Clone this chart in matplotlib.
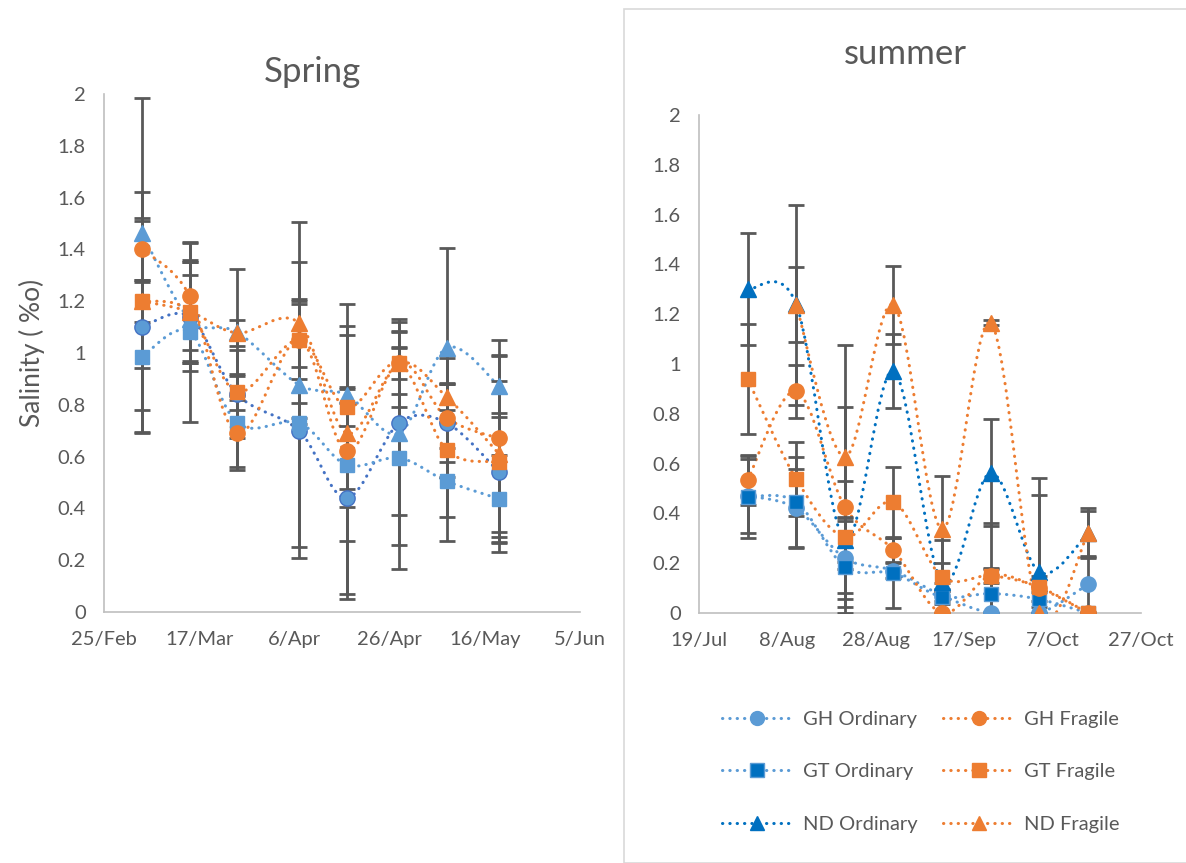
import datetime as dt
import numpy as np
import matplotlib
matplotlib.use("Agg")
import matplotlib.pyplot as plt
import matplotlib.dates as mdates
from matplotlib.path import Path
from matplotlib.patches import PathPatch, Rectangle
from matplotlib.lines import Line2D

plt.rcParams["font.family"] = ["Lato", "DejaVu Sans"]

labels = ["GH Ordinary", "GT Ordinary", "ND Ordinary", "GH Fragile", "GT Fragile", "ND Fragile"]

# spring sampling dates and values (salinity, %o)
spring_dates = ["2021-03-05", "2021-03-15", "2021-03-25", "2021-04-07",
                "2021-04-17", "2021-04-28", "2021-05-08", "2021-05-19"]
spring_gh_ord = [1.10, 1.14, 0.84, 0.70, 0.44, 0.73, 0.73, 0.54]
spring_gt_ord = [0.985, 1.08, 0.73, 0.73, 0.568, 0.595, 0.505, 0.437]
spring_nd_ord = [1.463, 1.13, 1.08, 0.877, 0.838, 0.69, 1.02, 0.872]
spring_gh_fra = [1.40, 1.22, 0.69, 1.05, 0.62, 0.96, 0.75, 0.67]
spring_gt_fra = [1.20, 1.16, 0.85, 1.05, 0.79, 0.96, 0.625, 0.58]
spring_nd_fra = [1.20, 1.16, 1.077, 1.115, 0.69, 0.96, 0.83, 0.61]

spring_gh_ord_err = [0.41, 0.21, 0.17, 0.49, 0.035, 0.355, 0.15, 0.23]
spring_gt_ord_err = [0.29, 0.345, 0.18, 0.48, 0.50, 0.43, 0.23, 0.17]
spring_nd_ord_err = [0.52, 0.17, 0.245, 0.07, 0.03, 0.43, 0.385, 0.12]
spring_gh_fra_err = [0.12, 0.21, 0.13, 0.15, 0.57, 0.17, 0.23, 0.38]
spring_gt_fra_err = [0.42, 0.19, 0.07, 0.30, 0.07, 0.06, 0.26, 0.31]
spring_nd_fra_err = [0.08, 0.20, 0.05, 0.39, 0.415, 0.12, 0.05, 0.38]

# summer sampling dates and values
summer_dates = ["2021-07-30", "2021-08-10", "2021-08-21", "2021-09-01",
                "2021-09-12", "2021-09-23", "2021-10-04", "2021-10-15"]
summer_gh_ord = [0.47, 0.42, 0.22, 0.17, 0.07, 0.0, 0.0, 0.115]
summer_gt_ord = [0.466, 0.446, 0.185, 0.16, 0.065, 0.078, 0.055, 0.0]
summer_nd_ord = [1.30, 1.24, 0.293, 0.972, 0.125, 0.563, 0.164, 0.32]
summer_gh_fra = [0.534, 0.89, 0.426, 0.253, 0.0, 0.15, 0.10, 0.0]
summer_gt_fra = [0.94, 0.538, 0.305, 0.446, 0.145, 0.15, 0.104, 0.0]
summer_nd_fra = [np.nan, 1.237, 0.627, 1.237, 0.337, 1.165, 0.0, 0.32]

summer_gh_ord_err = [0.15, 0.16, 0.165, 0.03, 0.02, 0.0, 0.0, 0.11]
summer_gt_ord_err = [0.165, 0.18, 0.185, 0.14, 0.03, 0.10, 0.03, 0.0]
summer_nd_ord_err = [0.225, 0.15, 0.09, 0.15, 0.17, 0.215, 0.38, 0.10]
summer_gh_fra_err = [0.10, 0.105, 0.40, 0.05, 0.0, 0.03, 0.05, 0.0]
summer_gt_fra_err = [0.22, 0.15, 0.225, 0.14, 0.055, 0.21, 0.37, 0.0]
summer_nd_fra_err = [np.nan, 0.40, 0.45, 0.155, 0.215, 0.01, 0.0, 0.09]

LIGHT = "#5B9BD5"
MID = "#4472C4"
DARK = "#0070C0"
ORANGE = "#ED7D31"
TEXT = "#595959"
AXIS = "#BFBFBF"


def to_num(dates):
    return mdates.date2num([dt.datetime.strptime(d, "%Y-%m-%d") for d in dates])


def smooth_line(ax, x, y, color):
    # excel style smoothed line, bezier through the points
    x = np.asarray(x, dtype=float)
    y = np.asarray(y, dtype=float)
    ok = ~np.isnan(y)
    x = x[ok]
    y = y[ok]
    n = len(x)
    verts = [(x[0], y[0])]
    codes = [Path.MOVETO]
    for i in range(n - 1):
        a = i - 1 if i > 0 else i
        b = i + 2 if i + 2 < n else i + 1
        c1 = (x[i] + (x[i + 1] - x[a]) / 6, y[i] + (y[i + 1] - y[a]) / 6)
        c2 = (x[i + 1] - (x[b] - x[i]) / 6, y[i + 1] - (y[b] - y[i]) / 6)
        verts += [c1, c2, (x[i + 1], y[i + 1])]
        codes += [Path.CURVE4] * 3
    patch = PathPatch(Path(verts, codes), fill=False, edgecolor=color, lw=2.2,
                      linestyle=(0, (0.1, 2.3)), capstyle="round", zorder=2)
    ax.add_patch(patch)


def draw_series(ax, x, y, err, face, line, marker, size):
    smooth_line(ax, x, y, line)
    ax.errorbar(x, y, yerr=err, fmt="none", ecolor=TEXT, elinewidth=2,
                capsize=5.5, capthick=2, zorder=3)
    ax.plot(x, y, linestyle="none", marker=marker, ms=size, mfc=face,
            mec=line, mew=1, zorder=4)


def style_axes(ax, start, end):
    ax.set_xlim(mdates.date2num(start), mdates.date2num(end))
    ax.set_ylim(0, 2)
    ticks = [start + dt.timedelta(days=20 * k) for k in range(6)]
    ax.set_xticks(mdates.date2num(ticks))
    ax.xaxis.set_major_formatter(mdates.DateFormatter("%-d/%b"))
    ax.set_yticks(np.arange(0, 2.01, 0.2))
    ax.set_yticklabels(["0", "0.2", "0.4", "0.6", "0.8", "1", "1.2", "1.4", "1.6", "1.8", "2"])
    for s in ["top", "right"]:
        ax.spines[s].set_visible(False)
    for s in ["left", "bottom"]:
        ax.spines[s].set_color(AXIS)
        ax.spines[s].set_linewidth(1.2)
    ax.tick_params(axis="both", length=0, labelsize=14.5, labelcolor=TEXT)
    ax.tick_params(axis="y", pad=13)
    ax.tick_params(axis="x", pad=14)
    ax.set_facecolor("none")


fig = plt.figure(figsize=(11.86, 8.63), dpi=100)

# frame round the summer chart
fig.patches.append(Rectangle((624 / 1186, 0), 0.6, 1 - 9 / 863, transform=fig.transFigure,
                             fill=False, edgecolor="#D9D9D9", lw=1.2))

ax1 = fig.add_axes([104 / 1186, 1 - 612 / 863, 476 / 1186, 518 / 863])
sx = to_num(spring_dates)
draw_series(ax1, sx, spring_gh_ord, spring_gh_ord_err, LIGHT, MID, "o", 11)
draw_series(ax1, sx, spring_gt_ord, spring_gt_ord_err, LIGHT, LIGHT, "s", 10)
draw_series(ax1, sx, spring_nd_ord, spring_nd_ord_err, LIGHT, LIGHT, "^", 11)
draw_series(ax1, sx, spring_gh_fra, spring_gh_fra_err, ORANGE, ORANGE, "o", 11)
draw_series(ax1, sx, spring_gt_fra, spring_gt_fra_err, ORANGE, ORANGE, "s", 10)
draw_series(ax1, sx, spring_nd_fra, spring_nd_fra_err, ORANGE, ORANGE, "^", 11)
style_axes(ax1, dt.datetime(2021, 2, 25), dt.datetime(2021, 6, 5))
fig.text(312 / 1186, 1 - 72 / 863, "Spring", ha="center", va="center", fontsize=25, color=TEXT)
fig.text(32 / 1186, 1 - 353 / 863, "Salinity ( %o)", ha="center", va="center",
         rotation=90, fontsize=19, color=TEXT)

ax2 = fig.add_axes([699 / 1186, 1 - 613 / 863, 442 / 1186, 498 / 863])
ux = to_num(summer_dates)
draw_series(ax2, ux, summer_gh_ord, summer_gh_ord_err, LIGHT, LIGHT, "o", 11)
draw_series(ax2, ux, summer_gt_ord, summer_gt_ord_err, DARK, LIGHT, "s", 10)
draw_series(ax2, ux, summer_nd_ord, summer_nd_ord_err, DARK, DARK, "^", 11)
draw_series(ax2, ux, summer_gh_fra, summer_gh_fra_err, ORANGE, ORANGE, "o", 11)
draw_series(ax2, ux, summer_gt_fra, summer_gt_fra_err, ORANGE, ORANGE, "s", 10)
draw_series(ax2, ux, summer_nd_fra, summer_nd_fra_err, ORANGE, ORANGE, "^", 11)
style_axes(ax2, dt.datetime(2021, 7, 19), dt.datetime(2021, 10, 27))
fig.text(905 / 1186, 1 - 54 / 863, "summer", ha="center", va="center", fontsize=25, color=TEXT)

styles = [(LIGHT, LIGHT, "o"), (DARK, LIGHT, "s"), (DARK, DARK, "^"),
          (ORANGE, ORANGE, "o"), (ORANGE, ORANGE, "s"), (ORANGE, ORANGE, "^")]
handles = []
for face, line, m in styles:
    handles.append(Line2D([], [], color=line, lw=2.2, linestyle=(0, (0.1, 2.3)),
                          dash_capstyle="round", marker=m, ms=10, mfc=face, mec=line))
fig.legend(handles, labels, ncol=2, loc="upper left", bbox_to_anchor=(722 / 1186, 1 - 711 / 863),
           frameon=False, fontsize=14.5, labelcolor=TEXT, handlelength=3.5,
           labelspacing=1.75, columnspacing=1.3, handletextpad=0.5, borderpad=0, borderaxespad=0)

fig.savefig("out.png", dpi=100)
